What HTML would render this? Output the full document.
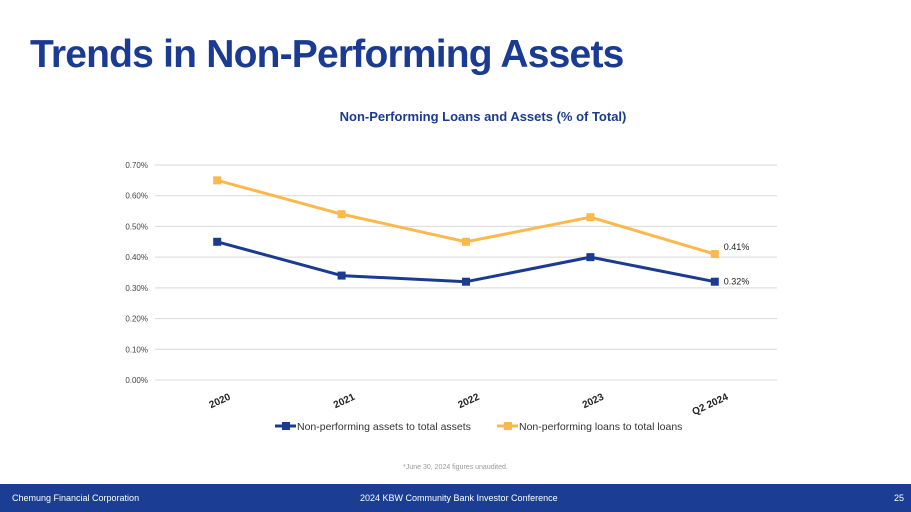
<!DOCTYPE html>
<html><head><meta charset="utf-8"><style>
body{margin:0;width:911px;height:512px;overflow:hidden;background:#fff;font-family:"Liberation Sans",sans-serif;position:relative}
#title{position:absolute;left:30px;top:33px;font-size:39px;font-weight:bold;color:#1b3a92;letter-spacing:-0.8px;margin:0}
#footer{position:absolute;left:0;top:484px;width:911px;height:28px;background:#1c3d94;color:#fff;font-size:9px}
#footer span{position:absolute;top:9px}
#note{position:absolute;top:464px;left:0;width:911px;text-align:center;font-size:7px;color:#999}
</style></head><body>
<h1 id="title">Trends in Non-Performing Assets</h1>
<svg id="chart" width="911" height="470" style="position:absolute;left:0;top:0"></svg>
<div id="note">*June 30, 2024 figures unaudited.</div>
<div id="footer">
<span style="left:12px">Chemung Financial Corporation</span>
<span style="left:360px">2024 KBW Community Bank Investor Conference</span>
<span style="left:894px">25</span>
</div>
<script>
const categories=["2020","2021","2022","2023","Q2 2024"];
const assetsValues=[0.45,0.34,0.32,0.40,0.32];
const loansValues=[0.65,0.54,0.45,0.53,0.41];
const yTicks=[0,0.1,0.2,0.3,0.4,0.5,0.6,0.7];
const seriesNames=["Non-performing assets to total assets","Non-performing loans to total loans"];
const svg=document.getElementById('chart');
const NS='http://www.w3.org/2000/svg';
const x0=155,x1=777,yTop=165,yBot=380,yMax=0.7;
const band=(x1-x0)/categories.length;
const xs=i=>x0+band*(i+0.5);
const ys=v=>yBot-(v/yMax)*(yBot-yTop);
function mk(t,a){const e=document.createElementNS(NS,t);for(const k in a)e.setAttribute(k,a[k]);svg.appendChild(e);return e;}
let t=mk('text',{x:483,y:121,'text-anchor':'middle','font-size':13,'font-weight':'bold',fill:'#1b3a92'});t.textContent='Non-Performing Loans and Assets (% of Total)';


yTicks.forEach(v=>{
 const l=mk('line',{x1:x0,x2:x1,y1:ys(v),y2:ys(v),stroke:'#d9d9d9','stroke-width':1});
 
 
 const tx=mk('text',{x:148,y:ys(v)+3,'text-anchor':'end','font-size':8,fill:'#444'});tx.textContent=v.toFixed(2)+'%';
 
 
});
categories.forEach((c,i)=>{
 const tx=mk('text',{x:xs(i)+14,y:399,'text-anchor':'end','font-size':10,'font-weight':'bold',fill:'#222',transform:`rotate(-25 ${xs(i)+14} 399)`});tx.textContent=c;
 
 
});
function series(vals,col,name){
 const p=mk('polyline',{points:vals.map((v,i)=>xs(i)+','+ys(v)).join(' '),fill:'none',stroke:col,'stroke-width':3,'stroke-linejoin':'round'});
 
 
 vals.forEach((v,i)=>{const r=mk('rect',{x:xs(i)-4,y:ys(v)-4,width:8,height:8,fill:col});
 
 });
 const li=vals.length-1;
 const lb=mk('text',{x:xs(li)+9,y:ys(vals[li])+(name==='loans'?-4:3),'font-size':9,fill:'#222'});lb.textContent=vals[li].toFixed(2)+'%';
 
 
}
series(loansValues,'#fbb84c','loans');
series(assetsValues,'#1b3a92','assets');
[[275,'#1b3a92',0],[497,'#fbb84c',1]].forEach(([x,c,k])=>{
 const l=mk('line',{x1:x,x2:x+21,y1:426,y2:426,stroke:c,'stroke-width':3});
 
 
 const r=mk('rect',{x:x+7,y:422,width:8,height:8,fill:c});
 
 
 const tx=mk('text',{x:x+22,y:430,'font-size':10.5,fill:'#333'});tx.textContent=seriesNames[k];
 
 
});
</script>
</body></html>
